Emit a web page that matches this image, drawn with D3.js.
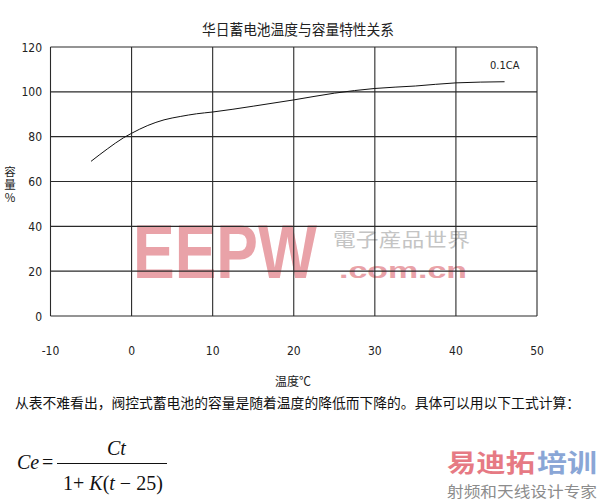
<!DOCTYPE html>
<html><head><meta charset="utf-8">
<script src="https://cdn.jsdelivr.net/npm/d3@7/dist/d3.min.js"></script>
<style>body{margin:0;background:#fff}svg{display:block}</style>
</head><body>
<script>
const title = "华日蓄电池温度与容量特性关系";
const xTicks = [-10, 0, 10, 20, 30, 40, 50];
const yTicks = [0, 20, 40, 60, 80, 100, 120];
const temps = [-5, -3, -1, 0, 2, 4, 6, 8, 10, 15, 20, 25, 30, 35, 40, 46];
const capacity = [69, 74.5, 79.5, 81.5, 85, 87.5, 89, 90.2, 91, 93.6, 96.4, 99.4, 101.5, 102.6, 104, 104.5];
const seriesLabel = "0.1CA";
const xLabel = "温度℃";
const yLabelChars = ["容", "量", "%"];
const noteText = "从表不难看出，阀控式蓄电池的容量是随着温度的降低而下降的。具体可以用以下工式计算：";

const W = 600, H = 501;
const svg = d3.select("body").append("svg").attr("width", W).attr("height", H);
const x = d3.scaleLinear().domain([-10, 50]).range([50.5, 537]);
const y = d3.scaleLinear().domain([0, 120]).range([316, 47]);
const tickFont = "'Liberation Sans Narrow','DejaVu Sans Condensed','Liberation Sans',sans-serif";
const cjk = "'Noto Sans CJK SC',sans-serif";

// title
svg.append("text").attr("x", 298).attr("y", 35).attr("text-anchor", "middle")
  .attr("font-family", cjk).attr("font-size", 14.5).attr("fill", "#222")
  .attr("textLength", 192).attr("lengthAdjust", "spacingAndGlyphs").text(title);

// watermark (behind grid)
const wm = svg.append("g");
wm.append("text").attr("x", 133).attr("y", 278).attr("font-family", "'Liberation Sans',Arial,sans-serif")
  .attr("font-weight", "bold").attr("font-size", 76).attr("fill", "#e9a2a8")
  .attr("textLength", 184).attr("lengthAdjust", "spacingAndGlyphs").text("EEPW");
wm.append("text").attr("x", 333).attr("y", 247).attr("font-family", "'Noto Sans CJK TC',sans-serif")
  .attr("font-size", 19).attr("fill", "#c4c4c4")
  .attr("textLength", 137).attr("lengthAdjust", "spacingAndGlyphs").text("電子産品世界");
wm.append("text").attr("x", 339).attr("y", 278).attr("font-family", "'Liberation Sans',Arial,sans-serif")
  .attr("font-weight", "bold").attr("font-size", 22).attr("fill", "#e9a2a8")
  .attr("textLength", 128).attr("lengthAdjust", "spacingAndGlyphs").text(".com.cn");

// grid
const g = svg.append("g").attr("stroke", "#2a2a2a").attr("stroke-width", 1.1);
g.selectAll(".v").data(xTicks).join("line")
  .attr("x1", d => x(d)).attr("x2", d => x(d)).attr("y1", y(120)).attr("y2", y(0));
g.selectAll(".h").data(yTicks).join("line")
  .attr("x1", x(-10)).attr("x2", x(50)).attr("y1", d => y(d)).attr("y2", d => y(d));

// tick labels
svg.append("g").selectAll("text").data(yTicks).join("text")
  .attr("x", 42).attr("y", d => y(d) + 4.5).attr("text-anchor", "end")
  .attr("font-family", tickFont).attr("font-size", 12).attr("fill", "#222").text(d => d);
svg.append("g").selectAll("text").data(xTicks).join("text")
  .attr("x", d => x(d)).attr("y", 355).attr("text-anchor", "middle")
  .attr("font-family", tickFont).attr("font-size", 12).attr("fill", "#222").text(d => d);

// axis labels
svg.append("text").attr("x", 293).attr("y", 386).attr("text-anchor", "middle")
  .attr("font-family", cjk).attr("font-size", 12).attr("fill", "#222").text(xLabel);
const yl = svg.append("text").attr("x", 10).attr("y", 176).attr("text-anchor", "middle")
  .attr("font-family", cjk).attr("font-size", 11.5).attr("fill", "#222");
yl.selectAll("tspan").data(yLabelChars).join("tspan")
  .attr("x", 10).attr("dy", (d, i) => i === 0 ? 0 : 13).text(d => d);

// curve
const line = d3.line().x((d, i) => x(temps[i])).y(d => y(d)).curve(d3.curveMonotoneX);
svg.append("path").datum(capacity).attr("d", line).attr("fill", "none")
  .attr("stroke", "#111").attr("stroke-width", 1);
svg.append("text").attr("x", 490).attr("y", 69).attr("font-family", tickFont)
  .attr("font-size", 11).attr("fill", "#222").text(seriesLabel);

// note
svg.append("text").attr("x", 15).attr("y", 408).attr("font-family", cjk).attr("font-size", 14)
  .attr("fill", "#111").attr("textLength", 565).attr("lengthAdjust", "spacingAndGlyphs").text(noteText);

// formula
const serif = "'Liberation Serif','DejaVu Serif',serif";
const f = svg.append("g").attr("font-family", serif).attr("font-size", 20).attr("fill", "#111");
f.append("text").attr("x", 17).attr("y", 469).attr("font-style", "italic").text("Ce");
f.append("text").attr("x", 42).attr("y", 469).text("=");
f.append("line").attr("x1", 57).attr("x2", 167).attr("y1", 463.5).attr("y2", 463.5).attr("stroke", "#111").attr("stroke-width", 1);
f.append("text").attr("x", 107).attr("y", 455).attr("font-style", "italic").text("Ct");
const den = f.append("text").attr("x", 63).attr("y", 490);
den.append("tspan").text("1+ ");
den.append("tspan").attr("font-style", "italic").text("K");
den.append("tspan").text("(");
den.append("tspan").attr("font-style", "italic").text("t");
den.append("tspan").text(" − 25)");

// logo
const logo = svg.append("g").attr("font-family", cjk).attr("font-weight", "bold");
logo.append("text").attr("x", 447).attr("y", 472).attr("font-size", 25).attr("fill", "#e67a84")
  .attr("textLength", 88).attr("lengthAdjust", "spacingAndGlyphs").text("易迪拓");
logo.append("text").attr("x", 537).attr("y", 472).attr("font-size", 25).attr("fill", "#8aa6d6")
  .attr("textLength", 60).attr("lengthAdjust", "spacingAndGlyphs").text("培训");
svg.append("text").attr("x", 447).attr("y", 497).attr("font-family", cjk).attr("font-size", 15)
  .attr("fill", "#8c8c8c").attr("textLength", 150).attr("lengthAdjust", "spacingAndGlyphs").text("射频和天线设计专家");
</script>
</body></html>
